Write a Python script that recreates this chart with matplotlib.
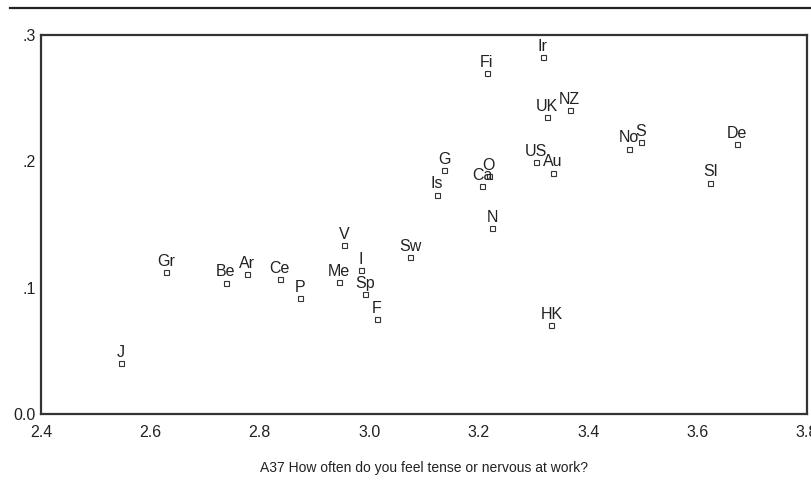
import numpy as np
import matplotlib
matplotlib.use("Agg")
import matplotlib.pyplot as plt
from matplotlib.lines import Line2D

plt.rcParams['font.family'] = ['Liberation Sans', 'DejaVu Sans']

# country codes and their values
codes = ['J', 'Gr', 'Be', 'Ar', 'Ce', 'P', 'Me', 'V', 'I', 'Sp', 'F', 'Sw',
         'Is', 'G', 'Ca', 'O', 'N', 'Fi', 'Ir', 'UK', 'NZ', 'US', 'Au', 'HK',
         'No', 'S', 'De', 'Sl']
tense = [2.546, 2.628, 2.738, 2.777, 2.836, 2.874, 2.945, 2.954, 2.985, 2.993,
         3.014, 3.075, 3.124, 3.137, 3.206, 3.218, 3.225, 3.215, 3.317, 3.325,
         3.366, 3.305, 3.336, 3.333, 3.475, 3.496, 3.672, 3.623]
share = [0.040, 0.1125, 0.104, 0.111, 0.107, 0.092, 0.1045, 0.1336, 0.1137, 0.0947,
         0.0752, 0.1244, 0.1736, 0.1931, 0.1804, 0.1883, 0.1474, 0.270, 0.2823, 0.2347,
         0.2405, 0.1992, 0.191, 0.0704, 0.2101, 0.2151, 0.2135, 0.1831]

xticks = [2.4, 2.6, 2.8, 3.0, 3.2, 3.4, 3.6, 3.8]
yticks = [0.0, 0.1, 0.2, 0.3]
ytick_labels = ['0.0', '.1', '.2', '.3']
xlabel = 'A37 How often do you feel tense or nervous at work?'

fig = plt.figure(figsize=(8.12, 4.83), dpi=100)
ax = fig.add_axes([41/812, 1 - 414/483, 766/812, 379/483])

ax.plot(tense, share, linestyle='none', marker='s', markersize=3.6,
        markerfacecolor='white', markeredgecolor='#333333', markeredgewidth=0.8)

for c, x, y in zip(codes, tense, share):
    ax.annotate(c, (x, y), xytext=(0, 4.5), textcoords='offset points',
                ha='center', va='baseline', fontsize=11.5, color='#222222')

ax.set_xlim(2.4, 3.8)
ax.set_ylim(0.0, 0.3)
ax.set_xticks(xticks)
ax.set_xticklabels(['%.1f' % t for t in xticks])
ax.set_yticks(yticks)
ax.set_yticklabels(ytick_labels)
ax.tick_params(axis='both', length=0, labelsize=11.5, colors='#222222')
ax.tick_params(axis='x', pad=8)
ax.tick_params(axis='y', pad=4)
ax.set_xlabel(xlabel, fontsize=10, color='#222222', labelpad=15)

for s in ax.spines.values():
    s.set_linewidth(1.6)
    s.set_color('#333333')

# rule across the top of the page
fig.add_artist(Line2D([10/812, 1.0], [1 - 8/483, 1 - 8/483],
                      transform=fig.transFigure, color='#222222', linewidth=1.6))

fig.savefig('out.png', dpi=100)
